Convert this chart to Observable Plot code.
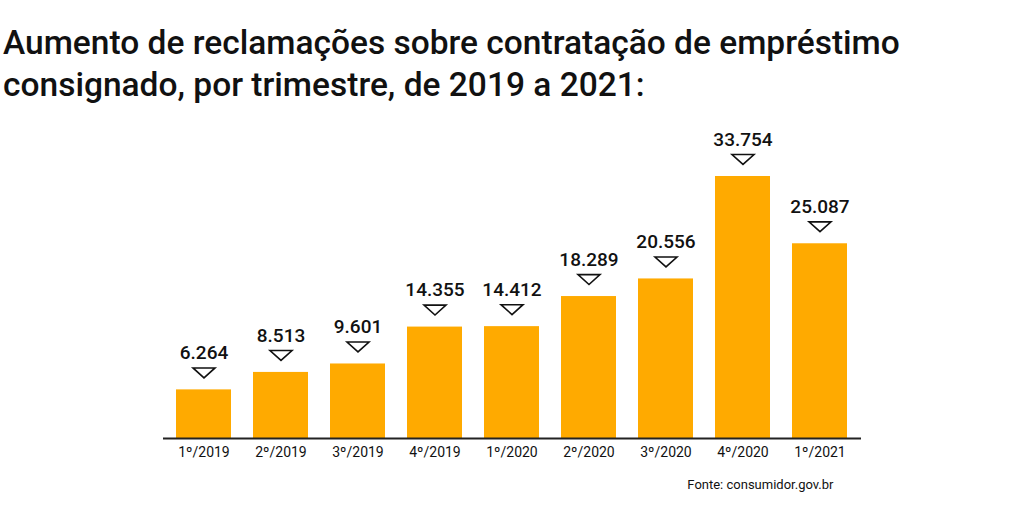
<!DOCTYPE html>
<html><head><meta charset="utf-8">
<script src="https://cdn.jsdelivr.net/npm/d3@7"></script>
<script src="https://cdn.jsdelivr.net/npm/@observablehq/plot@0.6"></script>
<style>
body{margin:0;background:#fff;width:1024px;height:505px;overflow:hidden;font-family:Roboto,sans-serif;}
h1{margin:0;padding:22px 0 0 3px;font-size:33.5px;line-height:42px;font-weight:500;color:#111;height:88px;white-space:nowrap;}
#chart svg{display:block}
</style></head><body>
<h1>Aumento de reclamações sobre contratação de empréstimo<br>consignado, por trimestre, de 2019 a 2021:</h1>
<div id="chart"></div>
<script>
const quarters = ["1º/2019","2º/2019","3º/2019","4º/2019","1º/2020","2º/2020","3º/2020","4º/2020","1º/2021"];
const complaints = [6264, 8513, 9601, 14355, 14412, 18289, 20556, 33754, 25087];
const source = "Fonte: consumidor.gov.br";

const data = quarters.map((q, i) => ({q, v: complaints[i]}));
const fmt = d3.formatLocale({decimal: ",", thousands: ".", grouping: [3], currency: ["R$", ""]}).format(",d");

const downTri = {
  draw(ctx, size) {
    const w = Math.sqrt(size) * 0.62, h = w * 0.45;
    ctx.moveTo(-w, -h);
    ctx.lineTo(w, -h);
    ctx.lineTo(0, h);
    ctx.closePath();
  }
};

const chart = Plot.plot({
  width: 1024,
  height: 395,
  marginLeft: 163,
  marginRight: 163,
  marginTop: 66,
  marginBottom: 67,
  style: {fontFamily: "Roboto,sans-serif", background: "#fff"},
  x: {domain: quarters, paddingInner: 0.28, paddingOuter: 0.14, label: null, tickSize: 0, tickPadding: 9},
  y: {domain: [0, 33754], axis: null},
  marks: [
    Plot.barY(data, {x: "q", y: "v", fill: "#FFAA00"}),
    Plot.ruleY([0], {stroke: "#222", strokeWidth: 2}),
    Plot.dot(data, {x: "q", y: "v", symbol: downTri, r: 10, dy: -17, stroke: "#111", strokeWidth: 1.6, fill: "#fff"}),
    Plot.text(data, {x: "q", y: "v", text: d => fmt(d.v), dy: -37, fontSize: 19, fontWeight: 500, fill: "#111"}),
    Plot.axisX({tickSize: 0, tickPadding: 9, fontSize: 14, fill: "#111"}),
    Plot.text([source], {frameAnchor: "bottom-right", dy: 50, dx: -28, fontSize: 13, fill: "#111", textAnchor: "end"})
  ]
});
document.getElementById("chart").appendChild(chart);
</script>
</body></html>
